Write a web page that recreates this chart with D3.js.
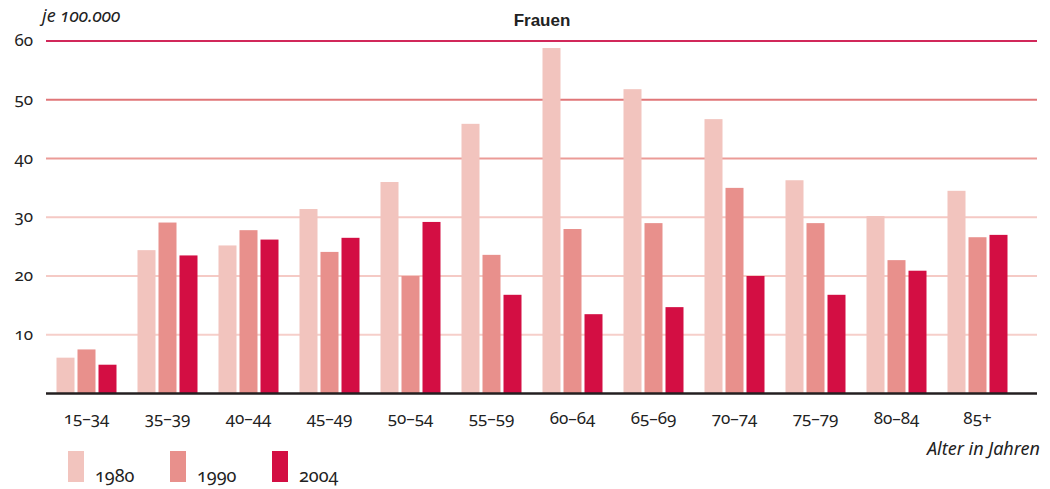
<!DOCTYPE html>
<html>
<head>
<meta charset="utf-8">
<script src="https://cdn.jsdelivr.net/npm/d3@7"></script>
<style>
  body { margin: 0; background: #fff; }
  text { font-family: "Noto Sans", "Lato", sans-serif; font-variant-numeric: oldstyle-nums; fill: #222; }
</style>
</head>
<body>
<svg id="chart" width="1050" height="489"></svg>
<script>
var ageGroups = ["15–34","35–39","40–44","45–49","50–54","55–59","60–64","65–69","70–74","75–79","80–84","85+"]
var years = ["1980","1990","2004"]
var v1980 = [6.1, 24.4, 25.2, 31.4, 36.0, 45.9, 58.8, 51.8, 46.7, 36.3, 30.2, 34.5]
var v1990 = [7.5, 29.1, 27.8, 24.1, 20.0, 23.6, 28.0, 29.0, 35.0, 29.0, 22.7, 26.6]
var v2004 = [4.9, 23.5, 26.2, 26.5, 29.2, 16.8, 13.5, 14.7, 20.0, 16.8, 20.9, 27.0]
var yTicks = [10, 20, 30, 40, 50, 60]
var colors = {"1980": "#f2c4be", "1990": "#e8908c", "2004": "#d30e43"}
// gridline colours get stronger toward the top
var gridColors = {10: "#f6cfca", 20: "#f5cac5", 30: "#f5c9c4", 40: "#eb9b97", 50: "#e07678", 60: "#d1285a"}

var series = {"1980": v1980, "1990": v1990, "2004": v2004}

var svg = d3.select("#chart")
var left = 46, right = 1037, base = 393.5

var x0 = d3.scaleBand().domain(ageGroups).range([left, 1018]).paddingInner(21/81).paddingOuter(21/162)
var x1 = d3.scaleBand().domain(years).range([0, x0.bandwidth()]).paddingInner(1/7)
var y = d3.scaleLinear().domain([0, 60]).range([base, 41])

// gridlines
svg.append("g").selectAll("line").data(yTicks).enter().append("line")
  .attr("x1", left).attr("x2", right)
  .attr("y1", function(d){ return y(d) }).attr("y2", function(d){ return y(d) })
  .attr("stroke", function(d){ return gridColors[d] })
  .attr("stroke-width", 2)

// y tick labels
svg.append("g").selectAll("text").data(yTicks).enter().append("text")
  .attr("x", 33).attr("y", function(d){ return y(d) + 5 })
  .attr("text-anchor", "end")
  .style("font-size", "17px")
  .text(function(d){ return d })

// bars
var groups = svg.append("g").selectAll("g").data(ageGroups).enter().append("g")
  .attr("transform", function(d){ return "translate(" + x0(d) + ",0)" })
groups.selectAll("rect").data(function(d, i){
    return years.map(function(yr){ return {year: yr, value: series[yr][i]} })
  }).enter().append("rect")
  .attr("x", function(d){ return x1(d.year) })
  .attr("width", x1.bandwidth())
  .attr("y", function(d){ return y(d.value) })
  .attr("height", function(d){ return base - y(d.value) })
  .attr("fill", function(d){ return colors[d.year] })

// baseline
svg.append("line").attr("x1", left).attr("x2", right)
  .attr("y1", y(0)).attr("y2", y(0))
  .attr("stroke", "#231f20").attr("stroke-width", 2.5)

// x labels
svg.append("g").selectAll("text").data(ageGroups).enter().append("text")
  .attr("x", function(d){ return x0(d) + x0.bandwidth()/2 })
  .attr("y", 424)
  .attr("text-anchor", "middle")
  .style("font-size", "17px")
  .text(function(d){ return d })

// titles
svg.append("text").attr("x", 42).attr("y", 22)
  .style("font-size", "18px").style("font-style", "italic")
  .text("je 100.000")
svg.append("text").attr("x", 542).attr("y", 26)
  .attr("text-anchor", "middle")
  .style("font-family", "'Liberation Sans', Arial, sans-serif")
  .style("font-size", "17px").style("font-weight", "bold")
  .text("Frauen")
svg.append("text").attr("x", 1040).attr("y", 455)
  .attr("text-anchor", "end")
  .style("font-size", "18px").style("font-style", "italic")
  .text("Alter in Jahren")

// legend
var legendX = d3.scalePoint().domain(years).range([68, 272])
var leg = svg.append("g").selectAll("g").data(years).enter().append("g")
  .attr("transform", function(d){ return "translate(" + legendX(d) + ",451)" })
leg.append("rect").attr("width", 16).attr("height", 31)
  .attr("fill", function(d){ return colors[d] })
leg.append("text").attr("x", 27).attr("y", 31)
  .style("font-size", "18px")
  .text(function(d){ return d })
</script>
</body>
</html>
